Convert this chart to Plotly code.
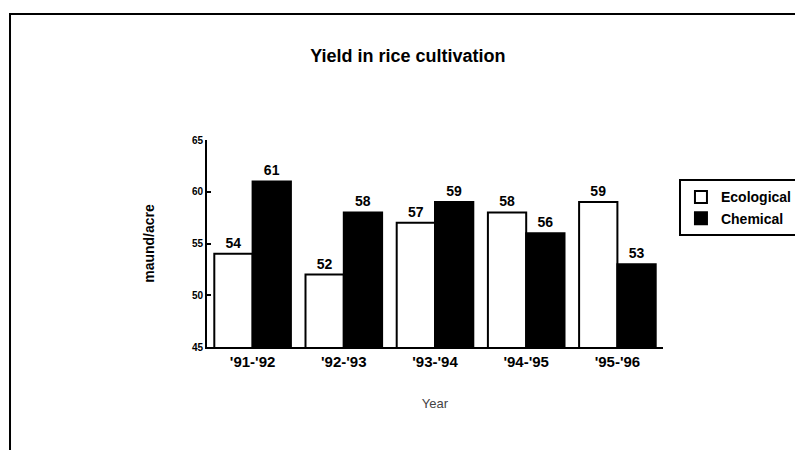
import plotly.graph_objects as go

years = ["'91-'92", "'92-'93", "'93-'94", "'94-'95", "'95-'96"]
ecological = [54, 52, 57, 58, 59]
chemical = [61, 58, 59, 56, 53]
y_ticks = [45, 50, 55, 60, 65]

FONT = "Liberation Sans, Arial, sans-serif"

fig = go.Figure()
fig.add_trace(go.Bar(
    x=years, y=ecological, name="Ecological",
    marker=dict(color="white", line=dict(color="black", width=2)),
    text=[str(v) for v in ecological], textposition="outside",
    texttemplate="<b>%{text}</b>",
    textfont=dict(family=FONT, size=14, color="black"),
    cliponaxis=False,
))
fig.add_trace(go.Bar(
    x=years, y=chemical, name="Chemical",
    marker=dict(color="black", line=dict(color="black", width=2)),
    text=[str(v) for v in chemical], textposition="outside",
    texttemplate="<b>%{text}</b>",
    textfont=dict(family=FONT, size=14, color="black"),
    cliponaxis=False,
))

fig.update_layout(
    width=803, height=450,
    paper_bgcolor="white", plot_bgcolor="white",
    margin=dict(l=199, r=137, t=132, b=111),
    barmode="group", bargap=0.16, bargroupgap=0.0,
    font=dict(family=FONT, color="black"),
    title=dict(text="<b>Yield in rice cultivation</b>", x=0.498, xanchor="center",
               y=0.895, yanchor="middle", font=dict(size=18, family=FONT, color="black")),
    legend=dict(x=1.035, y=0.81, xanchor="left", yanchor="top",
                bordercolor="black", borderwidth=2, bgcolor="white",
                font=dict(size=14, family=FONT, color="black"),
                itemwidth=30, tracegroupgap=2),
    xaxis=dict(
        showline=True, linecolor="black", linewidth=2, ticks="",
        tickfont=dict(size=15, family=FONT, color="black"),
        title=dict(text="Year", font=dict(size=13, color="#444"), standoff=30),
        tickprefix="<b>", ticksuffix="</b>",
    ),
    yaxis=dict(
        range=[45, 65], tickvals=y_ticks, ticktext=[f"<b>{t}</b>" for t in y_ticks],
        showline=True, linecolor="black", linewidth=2, showgrid=False,
        ticks="inside", ticklen=4, tickwidth=2, tickcolor="black", zeroline=False,
        tickfont=dict(size=10, family=FONT, color="black"),
        title=dict(text="<b>maund/acre</b>", font=dict(size=14, color="black"), standoff=34),
    ),
    shapes=[dict(type="rect", xref="paper", yref="paper",
                 x0=-0.432, x1=1.5, y0=-0.7, y1=1.609,
                 line=dict(color="black", width=2), fillcolor="rgba(0,0,0,0)", layer="below")],
    showlegend=True,
)
fig.for_each_trace(lambda t: t.update(name=f"<b>{t.name}</b>"))

fig.write_html("out.html")
